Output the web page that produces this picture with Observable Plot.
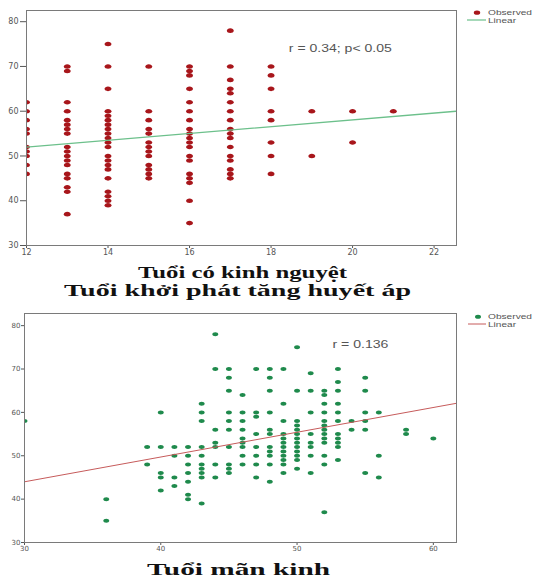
<!DOCTYPE html>
<html>
<head>
<meta charset="utf-8">
<script src="https://cdn.jsdelivr.net/npm/d3@7"></script>
<script src="https://cdn.jsdelivr.net/npm/@observablehq/plot@0.6"></script>
<style>
  body { margin: 0; background: #fff; }
  #wrap { position: relative; width: 534px; height: 578px; background: #fff; overflow: hidden; }
  #top, #bot { position: absolute; left: 0; }
  #top { top: 0; }
  #bot { top: 300px; }
  #overlay { position: absolute; left: 0; top: 0; pointer-events: none; }
</style>
</head>
<body>
<div id="wrap">
  <div id="top"></div>
  <div id="bot"></div>
  <svg id="overlay" width="534" height="578" xmlns="http://www.w3.org/2000/svg">
    <g font-family="Liberation Serif, Times New Roman, serif" font-weight="bold" font-size="16" fill="#111">
      <text x="138" y="278" textLength="209" lengthAdjust="spacingAndGlyphs">Tuổi có kinh nguyệt</text>
      <text x="64" y="296" textLength="347" lengthAdjust="spacingAndGlyphs">Tuổi khởi phát tăng huyết áp</text>
      <text x="147" y="575" textLength="183" lengthAdjust="spacingAndGlyphs" font-size="17">Tuổi mãn kinh</text>
    </g>
    <g font-family="Liberation Sans, Arial, sans-serif" font-size="7" fill="#555">
      <ellipse cx="477" cy="12.7" rx="3.2" ry="2.1" fill="#a8161b"></ellipse>
      <text x="488" y="15.3" textLength="44" lengthAdjust="spacingAndGlyphs">Observed</text>
      <line x1="467" y1="20" x2="486" y2="20" stroke="#6cc08b" stroke-width="1.2"></line>
      <text x="488" y="22.6" textLength="28" lengthAdjust="spacingAndGlyphs">Linear</text>
      <ellipse cx="478" cy="316.7" rx="3" ry="2" fill="#1f8a4c"></ellipse>
      <text x="488" y="319.3" textLength="44" lengthAdjust="spacingAndGlyphs">Observed</text>
      <line x1="468" y1="324" x2="486" y2="324" stroke="#c65b5b" stroke-width="1"></line>
      <text x="488" y="326.6" textLength="28" lengthAdjust="spacingAndGlyphs">Linear</text>
    </g>
  </svg>
</div>
<script>
// ---------- Top chart: Tuổi có kinh nguyệt (x) vs Tuổi khởi phát tăng huyết áp (y)
const menarcheAges = [12, 13, 14, 15, 16, 17, 18, 19, 20, 21];
const onsetByMenarche = [
  [62, 60, 58, 56, 55, 52, 51, 50, 48, 46],
  [70, 69, 62, 60, 58, 57, 56, 55, 52, 51, 50, 49, 48, 46, 45, 43, 42, 37],
  [75, 70, 65, 60, 59, 58, 57, 56, 55, 54, 53, 52, 50, 49, 48, 47, 45, 42, 41, 40, 39],
  [70, 60, 58, 56, 55, 53, 52, 51, 50, 48, 47, 46, 45],
  [70, 69, 68, 65, 62, 60, 58, 56, 55, 54, 53, 52, 50, 49, 46, 45, 44, 40, 35],
  [78, 70, 67, 65, 64, 62, 60, 58, 56, 55, 54, 52, 50, 49, 47, 46, 45],
  [70, 68, 65, 60, 58, 53, 50, 46],
  [60, 50],
  [60, 53],
  [60]
];
const topFitX = [12, 22.55];
const topFitY = [52, 60];
const topXTicks = [12, 14, 16, 18, 20, 22];
const topYTicks = [30, 40, 50, 60, 70, 80];
const topNote = "r = 0.34; p< 0.05";
const topNoteX = 19.7, topNoteY = 74;

// ---------- Bottom chart: Tuổi mãn kinh (x) vs Tuổi khởi phát tăng huyết áp (y)
const menopauseAges = [30, 36, 39, 40, 41, 42, 43, 44, 45, 46, 47, 48, 49, 50, 51, 52, 53, 54, 55, 56, 58, 60];
const onsetByMenopause = [
  [58],
  [40, 35],
  [52, 48],
  [60, 52, 46, 45, 42],
  [52, 50, 45, 43],
  [52, 50, 48, 46, 44, 41, 40],
  [62, 60, 58, 52, 50, 48, 47, 46, 45, 39],
  [78, 70, 56, 53, 52, 48, 45],
  [70, 68, 65, 60, 58, 56, 52, 48, 47, 46],
  [64, 60, 58, 56, 54, 53, 52, 50, 48],
  [70, 60, 59, 55, 52, 50, 48, 45],
  [70, 68, 65, 60, 56, 55, 52, 51, 50, 48, 44],
  [70, 62, 58, 55, 54, 53, 52, 51, 50, 49, 48, 46],
  [75, 65, 58, 57, 56, 55, 54, 53, 52, 51, 50, 49, 47],
  [69, 65, 60, 55, 53, 52, 50, 46],
  [65, 64, 62, 60, 58, 57, 56, 55, 54, 53, 50, 48, 37],
  [70, 67, 65, 62, 60, 58, 55, 54, 53, 52, 49],
  [58, 56],
  [68, 65, 60, 58, 56, 46],
  [60, 50, 45],
  [56, 55],
  [54]
];
const botFitX = [30, 61.7];
const botFitY = [44, 62.1];
const botXTicks = [30, 40, 50, 60];
const botYTicks = [30, 40, 50, 60, 70, 80];
const botNote = "r = 0.136";
const botNoteX = 54.65, botNoteY = 75.6;

// ---------- helpers
const flatten = (xs, ys) => xs.flatMap((x, i) => ys[i].map(y => ({x, y})));
const pairs = (xs, ys) => xs.map((x, i) => ({x, y: ys[i]}));
const ellipse = (stretch) => ({
  draw(ctx, size) {
    const r = Math.sqrt(size / Math.PI), rx = r * stretch, ry = r, k = 0.5523;
    ctx.moveTo(rx, 0);
    ctx.bezierCurveTo(rx, ry * k, rx * k, ry, 0, ry);
    ctx.bezierCurveTo(-rx * k, ry, -rx, ry * k, -rx, 0);
    ctx.bezierCurveTo(-rx, -ry * k, -rx * k, -ry, 0, -ry);
    ctx.bezierCurveTo(rx * k, -ry, rx, -ry * k, rx, 0);
    ctx.closePath();
  }
});
function fitNote(svg, label, len) {
  svg.querySelectorAll("text").forEach(t => {
    if (t.textContent === label) {
      t.setAttribute("textLength", len);
      t.setAttribute("lengthAdjust", "spacingAndGlyphs");
    }
  });
}

const axisStyle = {fontFamily: "DejaVu Sans, sans-serif", fontSize: "8px", color: "#555", background: "transparent", overflow: "visible"};

const topChart = Plot.plot({
  width: 534, height: 262,
  marginLeft: 26, marginRight: 78, marginTop: 10, marginBottom: 17,
  style: axisStyle,
  x: {domain: [12, 22.55], ticks: topXTicks, tickSize: 3, tickPadding: 1, label: null},
  y: {domain: [30, 82.5], ticks: topYTicks, tickSize: 6, tickPadding: 2, label: null},
  marks: [
    Plot.dot(flatten(menarcheAges, onsetByMenarche), {x: "x", y: "y", r: 2.3, symbol: ellipse(1.5), fill: "#a8161b", stroke: "none", clip: true}),
    Plot.line(pairs(topFitX, topFitY), {x: "x", y: "y", stroke: "#6cc08b", strokeWidth: 1.3, clip: true}),
    Plot.text([topNote], {x: () => topNoteX, y: () => topNoteY, text: d => d, fontSize: 10, fill: "#555", fontFamily: "Liberation Sans, Arial, sans-serif"}),
    Plot.frame({stroke: "#7a7a7a"})
  ]
});
fitNote(topChart, topNote, 103);
document.getElementById("top").appendChild(topChart);

const botChart = Plot.plot({
  width: 534, height: 258,
  marginLeft: 24, marginRight: 78, marginTop: 13, marginBottom: 16,
  style: {...axisStyle, fontSize: "7px"},
  x: {domain: [30, 61.7], ticks: botXTicks, tickSize: 3, tickPadding: 1, label: null},
  y: {domain: [30, 82.8], ticks: botYTicks, tickSize: 3, tickPadding: 1, label: null},
  marks: [
    Plot.dot(flatten(menopauseAges, onsetByMenopause), {x: "x", y: "y", r: 2, symbol: ellipse(1.5), fill: "#1f8a4c", stroke: "none", clip: true}),
    Plot.line(pairs(botFitX, botFitY), {x: "x", y: "y", stroke: "#c65b5b", strokeWidth: 1, clip: true}),
    Plot.text([botNote], {x: () => botNoteX, y: () => botNoteY, text: d => d, fontSize: 10, fill: "#555", fontFamily: "Liberation Sans, Arial, sans-serif"}),
    Plot.frame({stroke: "#7a7a7a"})
  ]
});
fitNote(botChart, botNote, 56);
document.getElementById("bot").appendChild(botChart);
</script>
</body>
</html>
